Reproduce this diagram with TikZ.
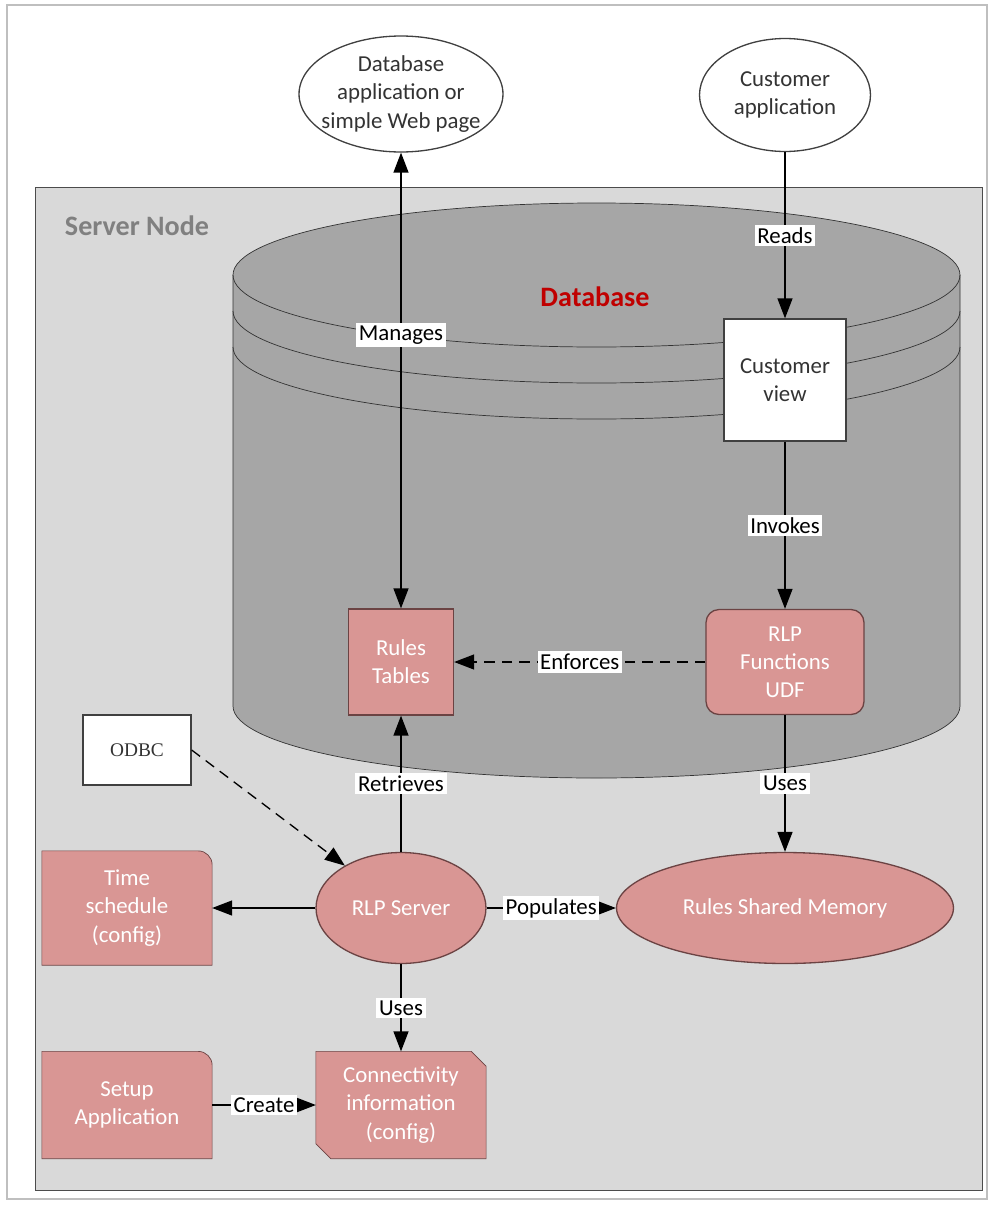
\documentclass[tikz,border=0pt]{standalone}
\usepackage{fontspec}
\setmainfont{Carlito}
\newfontfamily\odbcfont{Liberation Serif}
\usetikzlibrary{arrows.meta, positioning, shapes.geometric, backgrounds}
\definecolor{procFill}{HTML}{D99694}
\definecolor{procLine}{HTML}{6B4343}
\definecolor{serverFill}{HTML}{D9D9D9}
\definecolor{dbFill}{HTML}{A6A6A6}
\definecolor{dbRed}{HTML}{C00000}
\tikzset{
  proc/.style = {
    draw=procLine,
    fill=procFill,
    text=white,
    align=center,
  },
  box/.style = {
    draw=black!75,
    fill=white,
    text=black!80,
    align=center,
  },
  onLine/.style = {
    fill=white,
    text=black,
    inner sep=1.5pt,
  },
  flow/.style = {
    -{Triangle[length=4mm, width=3mm]},
  },
  both/.style = {
    {Triangle[length=4mm, width=3mm]}-{Triangle[length=4mm, width=3mm]},
  },
  soft/.style = {
    flow,
    dash pattern=on 6pt off 4pt,
  },
}

\begin{document}
\begin{tikzpicture}[
  x=.02cm, y=-.02cm,
  font=\fontsize{13}{16}\selectfont,
  line width=.75pt,
  cfg/.style = {
    text=white,
    align=center,
    minimum width=3.38cm,
    minimum height=2.12cm,
  },
  title/.style = {
    font=\fontsize{16}{19}\selectfont\bfseries,
  },
]
\useasboundingbox (0,0) rectangle (992,1207);

\begin{scope}[on background layer]
\draw[black!25, line width=1.2pt] (7,5) rectangle (987,1199);
\draw[draw=black!70, fill=serverFill] (35,187) rectangle (982,1190);
\draw[draw=black!80, fill=dbFill] (233,275) -- (233,706)
  arc[start angle=180, end angle=0, x radius=363.5, y radius=72]
  -- (960,275)
  arc[start angle=0, end angle=-180, x radius=363.5, y radius=72] -- cycle;
\foreach \dy in {0,36,72}
  \draw[black!80] (233,275+\dy) arc[start angle=180, end angle=0, x radius=363.5, y radius=72];
\end{scope}

\node(ServerLabel)[title, text=black!50] at (137,226) {Server Node};
\node(DBLabel)[title, text=dbRed] at (595,297) {Database};

\node(DBApp)[box, ellipse, minimum width=4.08cm, minimum height=2.32cm, inner xsep=-7pt, inner ysep=1pt] at (401,94) {Database\\application or\\simple Web page};
\node(CustApp)[box, ellipse, minimum width=3.42cm, minimum height=2.26cm] at (785,95) {Customer\\application};
\node(CustView)[box, minimum width=2.44cm, minimum height=2.44cm] at (785,380) {Customer\\view};
\node(Rules)[proc, minimum width=2.1cm, minimum height=2.12cm] at (401,662) {Rules\\Tables};
\node(RLPFunc)[proc, rounded corners=.26cm, minimum width=3.16cm, minimum height=2.1cm] at (785,662) {RLP\\Functions\\UDF};
\node(ODBC)[box, minimum width=2.16cm, minimum height=1.4cm, font=\odbcfont\fontsize{11}{13}\selectfont] at (137,750) {ODBC};
\node(RLPServer)[proc, ellipse, minimum width=3.4cm, minimum height=2.22cm] at (401,908) {RLP Server};
\node(SharedMem)[proc, ellipse, minimum width=6.74cm, minimum height=2.22cm] at (785,908) {Rules Shared Memory};
\node(Time)[cfg, minimum height=2.26cm] at (127,908) {Time\\schedule\\(config)};
\node(Setup)[cfg] at (127,1105) {Setup\\Application};
\node(Connect)[cfg] at (401,1105) {Connectivity\\information\\(config)};

\begin{scope}[on background layer]
\foreach \n in {Time, Setup}
  \draw[draw=procLine, fill=procFill] (\n.south west) -- (\n.north west)
    -- ([xshift=-.28cm]\n.north east) arc[start angle=90, end angle=0, radius=.28cm]
    -- (\n.south east) -- cycle;
\draw[draw=procLine, fill=procFill] ([xshift=.3cm]Connect.south west)
  -- ([yshift=.3cm]Connect.south west) -- (Connect.north west)
  -- ([xshift=-.3cm]Connect.north east) -- ([yshift=-.3cm]Connect.north east)
  -- (Connect.south east) -- cycle;
\end{scope}

\draw[both] (DBApp) -- node[onLine, pos=.4] {Manages} (Rules);
\draw[flow] (CustApp) -- node[onLine] {Reads} (CustView);
\draw[flow] (CustView) -- node[onLine] {Invokes} (RLPFunc);
\draw[soft] (RLPFunc) -- node[onLine] {Enforces} (Rules);
\draw[flow] (RLPFunc) -- node[onLine] {Uses} (SharedMem);
\draw[flow] (RLPServer) -- node[onLine] {Retrieves} (Rules);
\draw[soft] (ODBC.east) -- (RLPServer);
\draw[flow] (RLPServer) -- (Time);
\draw[flow] (RLPServer) -- node[onLine] {Populates} (SharedMem);
\draw[flow] (RLPServer) -- node[onLine] {Uses} (Connect);
\draw[flow] (Setup) -- node[onLine] {Create} (Connect);

\end{tikzpicture}
\end{document}
